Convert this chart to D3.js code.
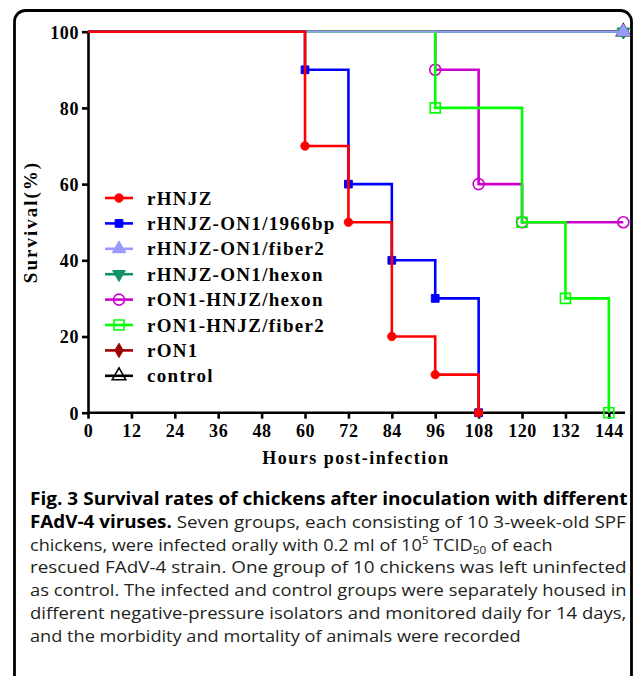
<!DOCTYPE html>
<html>
<head>
<meta charset="utf-8">
<script src="https://cdn.jsdelivr.net/npm/d3@7"></script>
<style>
  body { margin: 0; background: #fff; }
  svg { display: block; }
  .serif { font-family: "Liberation Serif", "Times New Roman", serif; font-weight: bold; }
</style>
</head>
<body>
<div id="chart-area"></div>
<script>
// survival data, [hour, % alive]
const hourTicks = [0, 12, 24, 36, 48, 60, 72, 84, 96, 108, 120, 132, 144];
const survivalTicks = [0, 20, 40, 60, 80, 100];
const endHour = 148;

const rHNJZ = [[0, 100], [60, 70], [72, 50], [84, 20], [96, 10], [108, 0]];
const rHNJZ_1966bp = [[0, 100], [60, 90], [72, 60], [84, 40], [96, 30], [108, 0]];
const rHNJZ_fiber2 = [[0, 100], [148, 100]];
const rHNJZ_hexon = [[0, 100], [148, 100]];
const rON1_hexon = [[0, 100], [96, 90], [108, 60], [120, 50], [148, 50]];
const rON1_fiber2 = [[0, 100], [96, 80], [120, 50], [132, 30], [144, 0]];
const rON1 = [[0, 100], [148, 100]];
const control = [[0, 100], [148, 100]];

const groupNames = ['rHNJZ', 'rHNJZ-ON1/1966bp', 'rHNJZ-ON1/fiber2', 'rHNJZ-ON1/hexon',
  'rON1-HNJZ/hexon', 'rON1-HNJZ/fiber2', 'rON1', 'control'];
const groupData = [rHNJZ, rHNJZ_1966bp, rHNJZ_fiber2, rHNJZ_hexon, rON1_hexon, rON1_fiber2, rON1, control];

const captionLines = [
  'Fig. 3 Survival rates of chickens after inoculation with different',
  'FAdV-4 viruses.| Seven groups, each consisting of 10 3-week-old SPF',
  'chickens, were infected orally with 0.2 ml of 10^5 TCID_50 of each',
  'rescued FAdV-4 strain. One group of 10 chickens was left uninfected',
  'as control. The infected and control groups were separately housed in',
  'different negative-pressure isolators and monitored daily for 14 days,',
  'and the morbidity and mortality of animals were recorded'
];

// looks per group
const styles = [
  { color: '#ff0000', shape: d3.symbolCircle, size: 55, fill: true },
  { color: '#0000ff', shape: d3.symbolSquare, size: 60, fill: true },
  { color: '#9999ff', shape: d3.symbolTriangle, size: 80, fill: true },
  { color: '#10936a', shape: d3.symbolTriangle, size: 70, fill: true, flip: true },
  { color: '#cc00cc', shape: d3.symbolCircle, size: 95, fill: false },
  { color: '#00ff00', shape: d3.symbolSquare, size: 100, fill: false },
  { color: '#a00000', shape: d3.symbolDiamond, size: 60, fill: true },
  { color: '#000000', shape: d3.symbolTriangle, size: 80, fill: false }
];

const W = 633, H = 676;
const svg = d3.select('#chart-area').append('svg')
  .attr('width', W).attr('height', H);

// panel frame (runs off the bottom)
svg.append('rect')
  .attr('x', 14.5).attr('y', 10.5)
  .attr('width', 617).attr('height', 800)
  .attr('rx', 11)
  .attr('fill', 'none').attr('stroke', '#000').attr('stroke-width', 2.8);

const x = d3.scaleLinear().domain([0, endHour]).range([88, 88 + endHour * 3.617]);
const y = d3.scaleLinear().domain([0, 100]).range([412.7, 31.7]);

// axes
const xAxis = svg.append('g')
  .attr('transform', `translate(0, ${y(0)})`)
  .call(d3.axisBottom(x).tickValues(hourTicks).tickSize(6).tickSizeOuter(0).tickPadding(6));
const yAxis = svg.append('g')
  .attr('transform', `translate(${x(0)}, 0)`)
  .call(d3.axisLeft(y).tickValues(survivalTicks).tickSize(6).tickSizeOuter(0).tickPadding(3));

[xAxis, yAxis].forEach(g => {
  g.selectAll('path, line').attr('stroke', '#000').attr('stroke-width', 2.6);
  g.selectAll('text')
    .attr('class', 'serif')
    .attr('font-size', '18px')
    .attr('letter-spacing', '0.6px')
    .attr('fill', '#000');
});
xAxis.select('.domain').attr('d', `M${x(0)},0H${x(0) + 537}`);
yAxis.selectAll('text').attr('dy', '0.36em');

// titles
svg.append('text')
  .attr('class', 'serif')
  .attr('x', 356).attr('y', 464)
  .attr('text-anchor', 'middle')
  .attr('font-size', '18px')
  .attr('letter-spacing', '1.5px')
  .text('Hours post-infection');

svg.append('text')
  .attr('class', 'serif')
  .attr('transform', 'translate(37, 222) rotate(-90)')
  .attr('text-anchor', 'middle')
  .attr('font-size', '19px')
  .attr('letter-spacing', '2px')
  .text('Survival(%)');

// step lines, drawn so that later ones sit on top
const stepLine = d3.line()
  .x(d => x(d[0]))
  .y(d => y(d[1]))
  .curve(d3.curveStepAfter);

const drawOrder = [7, 6, 3, 4, 5, 2, 1, 0];
const symbolPath = s => d3.symbol().type(s.shape).size(s.size)();

const placeMarker = (g, s, cx, cy) => g.append('path')
  .attr('d', symbolPath(s))
  .attr('transform', `translate(${cx}, ${cy})${s.flip ? ' rotate(180)' : ''}`)
  .attr('fill', s.fill ? s.color : 'none')
  .attr('stroke', s.color)
  .attr('stroke-width', s.fill ? 1 : 1.6);

drawOrder.forEach(i => {
  const s = styles[i];
  const g = svg.append('g');
  g.append('path')
    .datum(groupData[i])
    .attr('d', stepLine)
    .attr('fill', 'none')
    .attr('stroke', s.color)
    .attr('stroke-width', i === 2 ? 2 : 2.6);
  groupData[i].slice(1).forEach(d => placeMarker(g, s, x(d[0]), y(d[1])));
});

// legend
const legend = svg.append('g');
groupNames.forEach((name, i) => {
  const s = styles[i];
  const ly = 198 + i * 25.4;
  legend.append('line')
    .attr('x1', 105).attr('x2', 133)
    .attr('y1', ly).attr('y2', ly)
    .attr('stroke', s.color).attr('stroke-width', 2.6);
  placeMarker(legend, s, 119, ly);
  legend.append('text')
    .attr('class', 'serif')
    .attr('x', 147).attr('y', ly + 6.5)
    .attr('font-size', '19px')
    .attr('letter-spacing', '1.3px')
    .text(name);
});

// caption, each line stretched to its width in the figure
const lineEnds = [628, 626, 553, 627, 627, 627, 521];
captionLines.forEach((line, i) => {
  const t = svg.append('text')
    .attr('x', 0).attr('y', 0)
    .attr('font-family', '"Open Sans", "Noto Sans", sans-serif')
    .attr('font-size', '17px')
    .attr('fill', '#231f20');
  if (i === 0) {
    t.append('tspan').attr('font-weight', 'bold').attr('fill', '#000').text(line);
  } else if (line.includes('|')) {
    const [b, r] = line.split('|');
    t.append('tspan').attr('font-weight', 'bold').attr('fill', '#000').text(b);
    t.append('tspan').text(r);
  } else if (line.includes('^')) {
    const [a, rest] = line.split('^');
    const [sup, rest2] = [rest.slice(0, 1), rest.slice(1)];
    const [b, rest3] = rest2.split('_');
    t.append('tspan').text(a);
    t.append('tspan').attr('font-size', '11px').attr('dy', -7).text(sup);
    t.append('tspan').attr('dy', 7).text(b);
    t.append('tspan').attr('font-size', '11px').attr('dy', 3).text(rest3.slice(0, 2));
    t.append('tspan').attr('dy', -3).text(rest3.slice(2));
  } else {
    t.append('tspan').text(line);
  }
  const w = t.node().getComputedTextLength();
  const left = 30;
  const sx = (lineEnds[i] - left) / w;
  t.attr('transform', `translate(${left}, ${505 + i * 22.8}) scale(${sx}, 1)`);
});
</script>
</body>
</html>
